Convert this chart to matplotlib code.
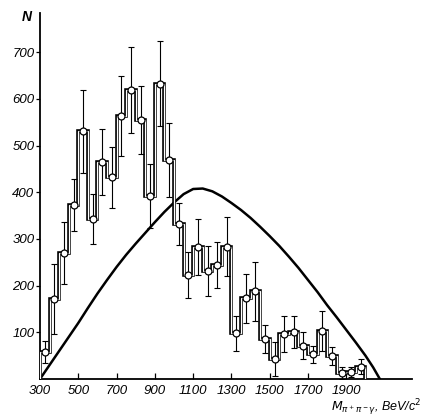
import matplotlib
matplotlib.use("Agg")
import matplotlib.pyplot as plt
import numpy as np

# bins of 50 MeV from 300 to 2000
edges = np.arange(300, 2001, 50)
counts = [58, 171, 270, 373, 531, 343, 465, 432, 563, 619, 555, 392, 632, 469,
          332, 223, 283, 231, 244, 283, 98, 173, 188, 86, 43, 96, 101, 71, 53,
          103, 49, 13, 15, 26]
errors = [23, 75, 67, 56, 89, 53, 70, 65, 85, 93, 72, 68, 91, 80,
          45, 50, 60, 53, 50, 63, 38, 52, 63, 30, 36, 38, 35, 29, 18,
          43, 20, 12, 10, 16]

# phase space curve
curve_m = [300, 350, 400, 450, 500, 550, 600, 650, 700, 750, 800, 850, 900,
           950, 1000, 1050, 1100, 1150, 1200, 1250, 1300, 1350, 1400, 1450,
           1500, 1550, 1600, 1650, 1700, 1750, 1800, 1850, 1900, 1950, 2000,
           2040, 2075]
curve_n = [0, 30, 60, 90, 120, 152, 183, 212, 240, 266, 290, 313, 336,
           358, 378, 396, 407, 408, 402, 391, 377, 362, 345, 326,
           306, 285, 262, 238, 212, 186, 158, 132, 105, 78, 50,
           25, 0]

xticks = [300, 500, 700, 900, 1100, 1300, 1500, 1700, 1900]
yticks = [100, 200, 300, 400, 500, 600, 700]

plt.rcParams['font.family'] = ['Liberation Sans', 'DejaVu Sans']

fig = plt.figure(figsize=(4.25, 4.19), dpi=100)
ax = fig.add_axes([40 / 425, 40 / 419, 1 - 40 / 425 - 13 / 425, 1 - 40 / 419 - 13 / 419])

centers = (edges[:-1] + edges[1:]) / 2

ax.plot(curve_m, curve_n, color='k', lw=1.8, zorder=2)

ax.stairs(counts, edges, baseline=0, color='k', lw=2.6, zorder=3)
ax.stairs(counts, edges, baseline=0, color='white', lw=0.9, zorder=4)
ax.errorbar(centers, counts, yerr=errors, fmt='none', ecolor='k',
            elinewidth=0.8, capsize=2, capthick=0.8, zorder=5)
ax.plot(centers, counts, 'o', ms=5, mfc='white', mec='k', mew=0.9, zorder=6)

ax.set_xlim(300, 2243)
ax.set_ylim(0, 784)
ax.spines['top'].set_visible(False)
ax.spines['right'].set_visible(False)
ax.spines['left'].set_linewidth(1.3)
ax.spines['bottom'].set_linewidth(1.3)

ax.set_xticks(xticks)
ax.set_xticklabels([str(t) for t in xticks], style='italic', fontsize=9.5)
ax.set_yticks(yticks)
ax.set_yticklabels([str(t) for t in yticks], style='italic', fontsize=9.5)
ax.tick_params(axis='x', direction='in', length=4, width=0.9, pad=4)
ax.tick_params(axis='y', direction='out', length=3, width=0.9, pad=1)

fig.text(27 / 425, 1 - 17 / 419, 'N', fontsize=10, style='italic',
         fontweight='bold', ha='center', va='center')
fig.text(0.99, 0.028, r'$M_{\pi^+\pi^-\gamma}$, BeV/c$^2$', fontsize=9,
         ha='right', va='center', style='italic')

fig.savefig('out.png', dpi=100)
